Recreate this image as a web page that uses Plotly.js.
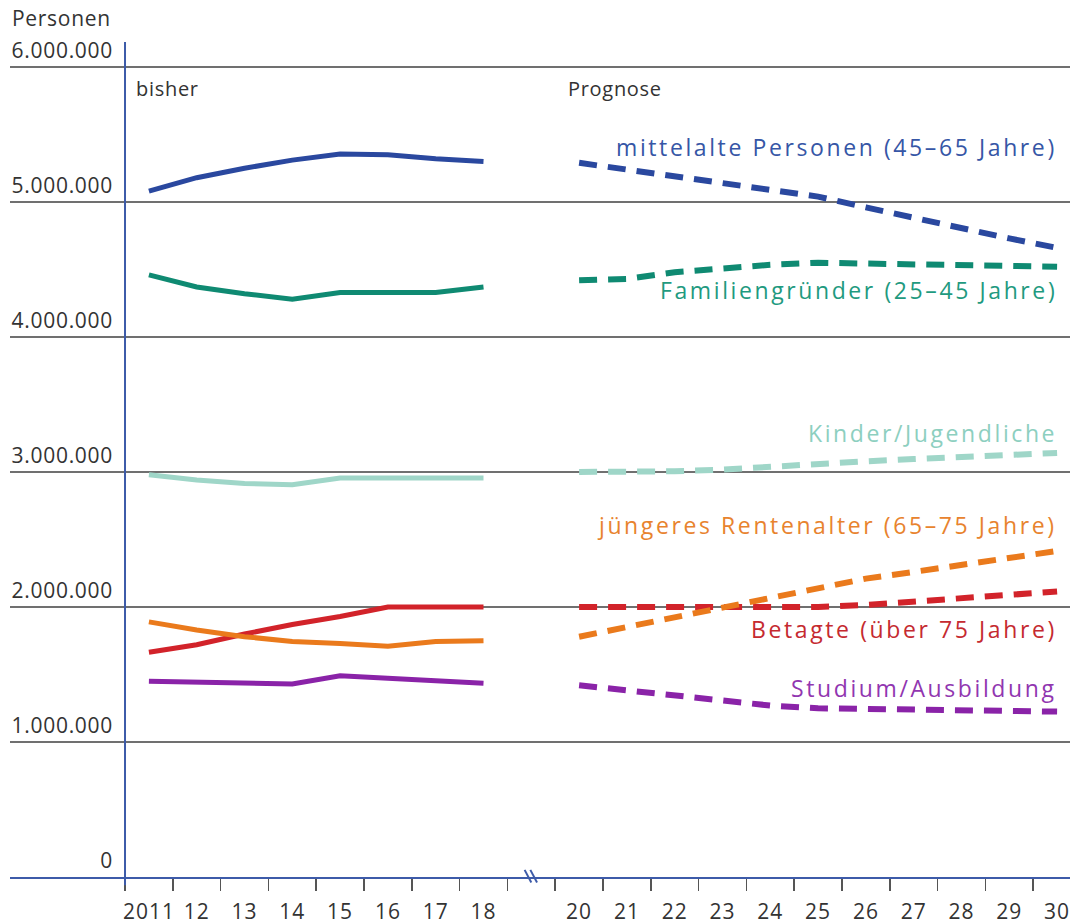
<!DOCTYPE html>
<html><head><meta charset="utf-8">
<script src="https://cdn.plot.ly/plotly-3.0.1.min.js"></script>
<style>html,body{margin:0;padding:0;background:#fff;} #chart{width:1070px;height:924px;}</style>
</head><body><div id="chart"></div>
<script>
// ---- data ----
const pastYears = [2011, 2012, 2013, 2014, 2015, 2016, 2017, 2018];
const futureYears = [2020, 2021, 2022, 2023, 2024, 2025, 2026, 2027, 2028, 2029, 2030];

const xTickVals = [2011, 2012, 2013, 2014, 2015, 2016, 2017, 2018, 2020, 2021, 2022, 2023, 2024, 2025, 2026, 2027, 2028, 2029, 2030];
const xTickText = ['2011', '12', '13', '14', '15', '16', '17', '18', '20', '21', '22', '23', '24', '25', '26', '27', '28', '29', '30'];
const yTickVals = [0, 1000000, 2000000, 3000000, 4000000, 5000000, 6000000];
const yTickText = ['0', '1.000.000', '2.000.000', '3.000.000', '4.000.000', '5.000.000', '6.000.000'];

const seriesNames = ['mittelalte Personen (45–65 Jahre)', 'Familiengründer (25–45 Jahre)', 'Kinder/Jugendliche',
  'jüngeres Rentenalter (65–75 Jahre)', 'Betagte (über 75 Jahre)', 'Studium/Ausbildung'];

const midPast   = [5080000, 5180000, 5250000, 5310000, 5355000, 5350000, 5320000, 5300000];
const midFuture = [5290000, 5240000, 5190000, 5140000, 5090000, 5040000, 4960000, 4880000, 4800000, 4730000, 4660000];

const famPast   = [4460000, 4370000, 4320000, 4280000, 4330000, 4330000, 4330000, 4370000];
const famFuture = [4420000, 4430000, 4480000, 4510000, 4535000, 4550000, 4545000, 4540000, 4530000, 4525000, 4520000];

const kidPast   = [2980000, 2940000, 2915000, 2905000, 2955000, 2955000, 2955000, 2955000];
const kidFuture = [3000000, 3000000, 3005000, 3018000, 3042000, 3062000, 3079000, 3096000, 3111000, 3128000, 3141000];

const retPast   = [1890000, 1830000, 1780000, 1745000, 1730000, 1710000, 1745000, 1750000];
const retFuture = [1780000, 1850000, 1920000, 2000000, 2070000, 2140000, 2210000, 2260000, 2310000, 2365000, 2415000];

const agedPast   = [1665000, 1720000, 1800000, 1870000, 1930000, 2000000, 2000000, 2000000];
const agedFuture = [2000000, 2000000, 2000000, 2000000, 2000000, 2000000, 2015000, 2040000, 2065000, 2088000, 2115000];

const studPast   = [1450000, 1445000, 1440000, 1430000, 1490000, 1470000, 1450000, 1435000];
const studFuture = [1420000, 1385000, 1345000, 1305000, 1270000, 1250000, 1245000, 1240000, 1235000, 1230000, 1225000];

// ---- styles ----
const lineColors = ['#2a489f', '#0f8a72', '#9fd6c8', '#ea7a1c', '#d2232a', '#8a23a8'];
const textColors = ['#3656a6', '#1f9a80', '#8dcfbf', '#e8832e', '#c52a30', '#9136b0'];
const pastSeries = [midPast, famPast, kidPast, retPast, agedPast, studPast];
const futureSeries = [midFuture, famFuture, kidFuture, retFuture, agedFuture, studFuture];
const drawOrder = [2, 0, 1, 4, 3, 5];

const sp = (t, ls) => '<span style="letter-spacing:' + ls + 'px">' + t + '</span>';
const FONT = '"Open Sans", "Noto Sans", sans-serif';
const axisBlue = '#3d5ba9';

const traces = [];
drawOrder.forEach(i => {
  traces.push({x: pastYears, y: pastSeries[i], type: 'scatter', mode: 'lines', name: seriesNames[i],
    line: {color: lineColors[i], width: 5}, hoverinfo: 'skip'});
  traces.push({x: futureYears, y: futureSeries[i], type: 'scatter', mode: 'lines', name: seriesNames[i],
    line: {color: lineColors[i], width: 6, dash: '18px,11px'}, hoverinfo: 'skip'});
});

const minorVals = [];
for (let k = 0; k < 20; k++) minorVals.push(pastYears[0] - 0.5 + k);

const labelY = [5410000, 4345000, 3289000, 2610000, 1840000, 1398000];
const annotations = seriesNames.map((n, i) => ({
  text: sp(n, 2.6), x: futureYears[futureYears.length - 1], xref: 'x', xanchor: 'right', xshift: 2,
  y: labelY[i], yref: 'y', yanchor: 'middle', showarrow: false,
  font: {family: FONT, size: 23, color: textColors[i]}
}));
annotations.push({text: sp('Personen', 0.7), xref: 'paper', x: 0, xanchor: 'left', yref: 'paper', y: 1.0287,
  yanchor: 'middle', showarrow: false, font: {family: FONT, size: 21, color: '#333'}});
annotations.push({text: sp('bisher', 0.7), xref: 'x', x: 2010.5, xshift: 9, xanchor: 'left', yref: 'y', y: 5840000,
  yanchor: 'middle', showarrow: false, font: {family: FONT, size: 20, color: '#333'}});
annotations.push({text: sp('Prognose', 0.7), xref: 'x', x: 2019.5, xshift: 11, xanchor: 'left', yref: 'y', y: 5840000,
  yanchor: 'middle', showarrow: false, font: {family: FONT, size: 20, color: '#333'}});

const shapes = [
  {type: 'line', xref: 'x', yref: 'paper', x0: 2010.5, x1: 2010.5, y0: -0.01, y1: 1, line: {color: axisBlue, width: 2}, layer: 'above'},
  {type: 'line', xref: 'x', yref: 'paper', x0: 2018.86, x1: 2019.0, y0: 0.0085, y1: -0.0065, line: {color: axisBlue, width: 2}, layer: 'above'},
  {type: 'line', xref: 'x', yref: 'paper', x0: 2018.98, x1: 2019.12, y0: 0.0085, y1: -0.0065, line: {color: axisBlue, width: 2}, layer: 'above'}
];

const layout = {
  width: 1070, height: 924,
  margin: {l: 10, r: 0, t: 42, b: 47},
  paper_bgcolor: '#fff', plot_bgcolor: '#fff',
  showlegend: false,
  font: {family: FONT, color: '#333'},
  xaxis: {
    range: [2008.094, 2030.27], showgrid: false, zeroline: false,
    showline: true, linecolor: axisBlue, linewidth: 2,
    tickmode: 'array', tickvals: xTickVals, ticktext: xTickText.map(t => sp(t, 1.0)),
    ticks: 'outside', ticklen: 15, tickcolor: 'rgba(0,0,0,0)', ticklabeloverflow: 'allow',
    tickfont: {family: FONT, size: 21, color: '#333'},
    minor: {tickmode: 'array', tickvals: minorVals, ticks: 'outside', ticklen: 12, tickwidth: 1.5, tickcolor: '#555', showgrid: false},
    fixedrange: true
  },
  yaxis: {
    range: [0, 6185000], anchor: 'free', position: 115 / 1060, side: 'left',
    showline: false, zeroline: false, showgrid: true, gridcolor: '#707070', gridwidth: 1.5,
    tickmode: 'array', tickvals: yTickVals, ticktext: yTickText.map(t => sp(t, 0.7)),
    ticks: '', ticklabelshift: -16, ticklabelstandoff: 12,
    tickfont: {family: FONT, size: 21, color: '#333'},
    fixedrange: true
  },
  annotations: annotations,
  shapes: shapes
};

Plotly.newPlot('chart', traces, layout, {displayModeBar: false, staticPlot: true});
</script></body></html>
